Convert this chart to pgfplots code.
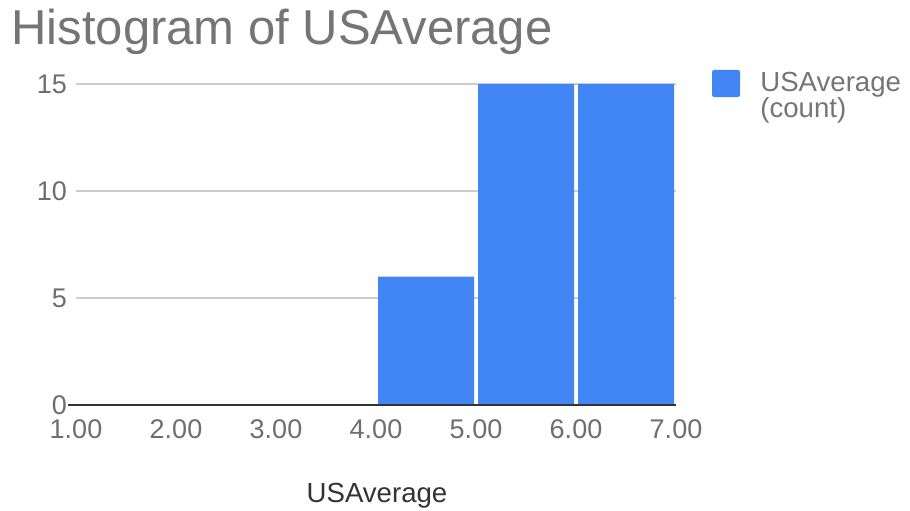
\documentclass[border=0pt]{standalone}
\usepackage{pgfplots}
\pgfplotsset{compat=1.18}
\usepackage{fontspec}
\setmainfont{Liberation Sans}
\definecolor{barblue}{HTML}{4285F4}
\definecolor{txtgray}{HTML}{757575}
\definecolor{tickgray}{HTML}{6E6E6E}
\definecolor{gridgray}{HTML}{CCCCCC}
\definecolor{basegray}{HTML}{333333}
\begin{document}
\begin{tikzpicture}[x=0.5pt,y=0.5pt]
\path[use as bounding box] (0,0) rectangle (910,510);
\node[anchor=base west, inner sep=0, text=txtgray] at (11,466) {\fontsize{24.5}{29}\selectfont Histogram of USAverage};
\begin{axis}[
  at={(38pt,52.5pt)}, anchor=south west,
  scale only axis, width=300pt, height=160.5pt,
  xmin=1, xmax=7, ymin=0, ymax=15,
  clip=false,
  axis line style={draw=none},
  major tick length=0pt,
  xtick={1,2,3,4,5,6,7},
  ytick={0,5,10,15},
  ymajorgrids, grid style={gridgray, line width=0.6pt},
  /pgf/number format/assume math mode=true,
  xticklabel={\pgfmathprintnumber[fixed,fixed zerofill,precision=2]{\tick}},
  tick label style={font=\fontsize{13.5}{16}\selectfont, text=tickgray},
  xticklabel style={yshift=-4pt},
  yticklabel style={xshift=-1pt},
]
\addplot[ybar, bar width=0.96, bar shift=0pt, fill=barblue, draw=none] coordinates {(4.5,6) (5.5,15) (6.5,15)};
\draw[basegray, line width=1.1pt] (axis cs:0.92,0) -- (axis cs:7,0);
\end{axis}
\fill[barblue, rounded corners=1pt] (712,413) rectangle (740,440);
\node[anchor=base west, inner sep=0, text=txtgray, align=left] at (760,418) {\fontsize{13.8}{12.5}\selectfont USAverage};
\node[anchor=base west, inner sep=0, text=txtgray, align=left] at (760,393) {\fontsize{13.8}{12.5}\selectfont (count)};
\node[anchor=base, inner sep=0, text=basegray] at (377,8) {\fontsize{13.8}{16}\selectfont USAverage};
\end{tikzpicture}
\end{document}
